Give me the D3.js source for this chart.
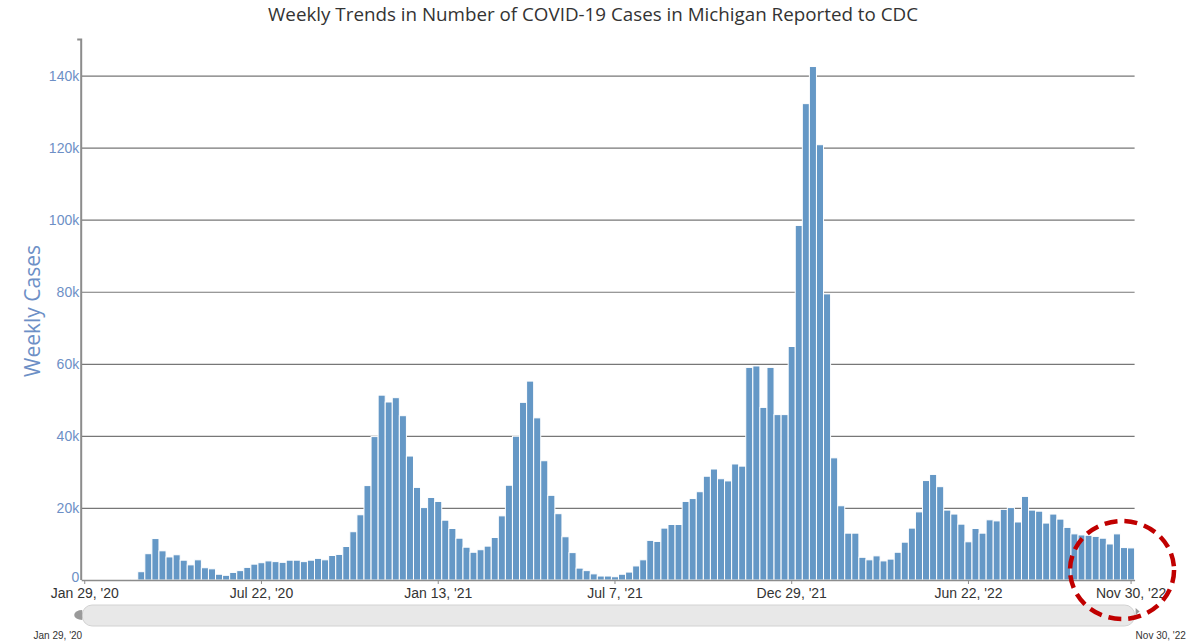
<!DOCTYPE html>
<html>
<head>
<meta charset="utf-8">
<script src="https://cdn.jsdelivr.net/npm/d3@7"></script>
<style>
  html, body { margin: 0; padding: 0; background: #fff; }
  svg { display: block; }
</style>
</head>
<body>
<svg id="chart"></svg>
<script>
// weekly cases, one value per week starting Jan 29, 2020
let startDate = "2020-01-29";
let values = [
  0, 0, 0, 0, 0, 0, 0, 250, 2300, 7300,
  11500, 8100, 6400, 7000, 5500, 4200, 5600, 3400, 3100, 1600,
  1300, 2100, 2600, 3500, 4400, 4800, 5300, 5100, 4900, 5500,
  5500, 5100, 5500, 6000, 5600, 6800, 7100, 9300, 13400, 18100,
  26200, 39800, 51300, 49400, 50600, 45600, 34400, 25700, 20100, 22900,
  21800, 16600, 14300, 11600, 9100, 7700, 8400, 9400, 11800, 17800,
  26300, 39900, 49300, 55200, 45000, 33100, 23500, 18400, 12000, 7600,
  3300, 2600, 1700, 1100, 1100, 900, 1600, 2200, 3900, 5600,
  11000, 10700, 14400, 15400, 15400, 21800, 22600, 24500, 28800, 30800,
  28100, 27500, 32200, 31600, 59000, 59400, 47900, 59000, 45900, 45900,
  64800, 98400, 132200, 142500, 120800, 79400, 33900, 20600, 13000, 13000,
  6300, 5600, 6700, 5300, 5800, 7700, 10500, 14400, 18900, 27600,
  29300, 25900, 19400, 18300, 15500, 10600, 14300, 13000, 16700, 16400,
  19600, 20100, 16100, 23200, 19400, 19100, 15800, 18300, 16900, 14600,
  12800, 12500, 12400, 12100, 11600, 10000, 12800, 9000, 8900
];
let xTickLabels = ["Jan 29, '20", "Jul 22, '20", "Jan 13, '21", "Jul 7, '21", "Dec 29, '21", "Jun 22, '22", "Nov 30, '22"];
let yTicks = [0, 20000, 40000, 60000, 80000, 100000, 120000, 140000];

let width = 1197;
let height = 641;
let plotLeft = 81.2;
let plotRight = 1134.6;
let plotTop = 39.5;
let plotBottom = 580;

let fmt = d3.timeFormat("%b %-d, '%y");
let start = d3.timeParse("%Y-%m-%d")(startDate);
let weeks = values.map((v, i) => fmt(d3.timeDay.offset(start, 7 * i)));

let svg = d3.select("#chart")
    .attr("width", width)
    .attr("height", height);

let xScale = d3.scaleBand()
    .domain(weeks)
    .range([plotLeft, plotRight])
    .padding(0);

let yScale = d3.scaleLinear()
    .domain([0, 150000])
    .range([plotBottom, plotTop]);

// title
svg.append("text")
    .attr("x", 593)
    .attr("y", 21)
    .attr("text-anchor", "middle")
    .style("font-family", "'Open Sans', sans-serif")
    .style("font-size", "18.8px")
    .style("fill", "#333")
    .text("Weekly Trends in Number of COVID-19 Cases in Michigan Reported to CDC");

// gridlines
let grid = svg.append("g")
    .attr("transform", "translate(" + plotLeft + ",0)")
    .call(d3.axisLeft(yScale)
        .tickValues(yTicks.filter(d => d > 0))
        .tickSize(-(plotRight - plotLeft))
        .tickFormat(""));
grid.select(".domain").remove();
grid.selectAll("line")
    .attr("stroke", "#777")
    .attr("stroke-width", 1.2);

// bars
svg.append("g")
    .selectAll("rect")
    .data(values)
    .enter()
    .append("rect")
    .attr("x", (d, i) => xScale(weeks[i]))
    .attr("width", xScale.bandwidth())
    .attr("y", d => yScale(d))
    .attr("height", d => plotBottom - yScale(d))
    .attr("fill", "#6598c6")
    .attr("stroke", "#ffffff")
    .attr("stroke-width", 1);

// y axis
let yAxis = svg.append("g")
    .attr("transform", "translate(" + plotLeft + ",0)")
    .call(d3.axisLeft(yScale)
        .tickValues(yTicks)
        .tickSize(0)
        .tickPadding(2)
        .tickFormat(d => d === 0 ? "0" : (d / 1000) + "k"));
yAxis.select(".domain")
    .attr("d", "M-4," + plotTop + "H0V" + plotBottom)
    .attr("stroke", "#8c8c8c")
    .attr("stroke-width", 2);
yAxis.selectAll("text")
    .style("font-family", "'Liberation Sans', Arial, sans-serif")
    .style("font-size", "14px")
    .style("fill", "#6d8fc6");
// lift the zero label a little so it clears the first date label
yAxis.selectAll(".tick")
    .filter(d => d === 0)
    .select("text")
    .attr("dy", "0.1em");

// x axis
let xAxis = svg.append("g")
    .attr("transform", "translate(0," + plotBottom + ")")
    .call(d3.axisBottom(xScale)
        .tickValues(xTickLabels)
        .tickSize(4)
        .tickPadding(4)
        .tickSizeOuter(0));
xAxis.select(".domain")
    .attr("stroke", "#8c8c8c")
    .attr("stroke-width", 1.5);
xAxis.selectAll(".tick line")
    .attr("stroke", "#8c8c8c");
xAxis.selectAll("text")
    .style("font-family", "'Liberation Sans', Arial, sans-serif")
    .style("font-size", "14px")
    .style("fill", "#333");

// y axis title
svg.append("text")
    .attr("transform", "translate(40,311)rotate(-90)")
    .attr("text-anchor", "middle")
    .style("font-family", "'Open Sans', sans-serif")
    .style("font-size", "21px")
    .style("fill", "#6d8fc6")
    .text("Weekly Cases");

// navigator scrollbar
let nav = svg.append("g");
nav.append("rect")
    .attr("x", plotLeft + 1)
    .attr("y", 605)
    .attr("width", plotRight - plotLeft - 1)
    .attr("height", 21)
    .attr("rx", 10)
    .attr("fill", "#e8e8e8")
    .attr("stroke", "#d2d2d2")
    .attr("stroke-width", 1);
nav.append("path")
    .attr("d", "M" + (plotLeft + 1) + ",610 A8,5 0 0 0 " + (plotLeft + 1) + ",620 Z")
    .attr("fill", "#9a9a9a");
nav.append("path")
    .attr("d", "M" + (plotRight + 1) + ",608 L" + (plotRight + 5) + ",611.5 L" + (plotRight + 1) + ",615 Z")
    .attr("fill", "#9a9a9a");
nav.append("text")
    .attr("x", plotLeft + 1)
    .attr("y", 639)
    .attr("text-anchor", "end")
    .style("font-family", "'Liberation Sans', Arial, sans-serif")
    .style("font-size", "10px")
    .style("fill", "#333")
    .text(xTickLabels[0]);
nav.append("text")
    .attr("x", plotRight + 1)
    .attr("y", 639)
    .attr("text-anchor", "start")
    .style("font-family", "'Liberation Sans', Arial, sans-serif")
    .style("font-size", "10px")
    .style("fill", "#333")
    .text(xTickLabels[xTickLabels.length - 1]);

// red dashed highlight around the latest weeks
let lastX = xScale(weeks[weeks.length - 1]) + xScale.bandwidth() / 2;
svg.append("ellipse")
    .attr("cx", lastX - 9)
    .attr("cy", 570)
    .attr("rx", 52)
    .attr("ry", 49)
    .attr("fill", "none")
    .attr("stroke", "#c00000")
    .attr("stroke-width", 4.5)
    .attr("stroke-dasharray", "13 7");
</script>
</body>
</html>
